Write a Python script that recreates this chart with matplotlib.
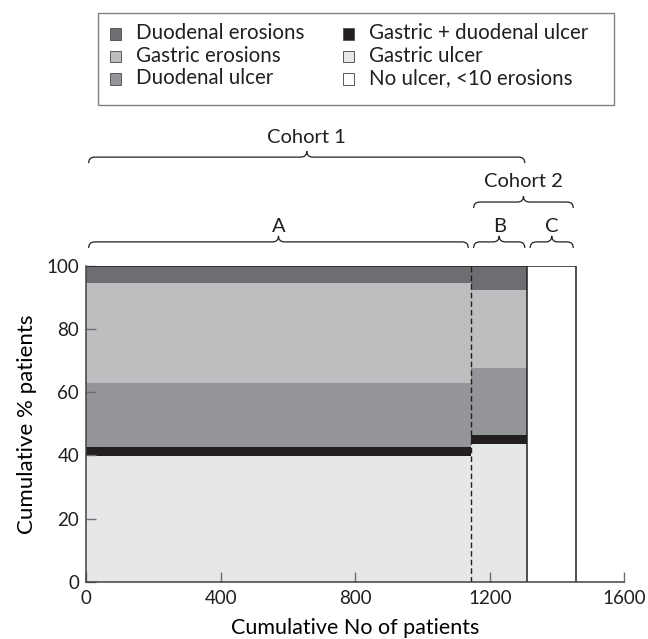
import numpy as np
import matplotlib
matplotlib.use("Agg")
import matplotlib.pyplot as plt
from matplotlib.path import Path
from matplotlib.patches import PathPatch, Rectangle

# groups of patients along the x axis
groups = ["A", "B", "C"]
n_patients = [1144, 168, 144]

# stacked % of patients per group, from the bottom up
layers = ["Gastric ulcer", "Gastric + duodenal ulcer", "Duodenal ulcer",
          "Gastric erosions", "Duodenal erosions", "No ulcer, <10 erosions"]
pct_A = [39.8, 2.8, 20.4, 31.6, 5.4, 0.0]
pct_B = [43.5, 2.9, 21.2, 24.8, 7.6, 0.0]
pct_C = [0.0, 0.0, 0.0, 0.0, 0.0, 100.0]

# cohorts as (label, first group, last group)
cohorts = [("Cohort 1", 0, 1), ("Cohort 2", 1, 2)]

colors = {"Gastric ulcer": "#e6e7e8",
          "Gastric + duodenal ulcer": "#231f20",
          "Duodenal ulcer": "#939598",
          "Gastric erosions": "#bcbec0",
          "Duodenal erosions": "#6d6e71",
          "No ulcer, <10 erosions": "#ffffff"}

ink = "#231f20"
plt.rcParams["font.family"] = ["Lato", "DejaVu Sans"]
plt.rcParams["text.color"] = ink

W, H = 648, 639
fig = plt.figure(figsize=(W / 100, H / 100), dpi=100)
ax = fig.add_axes([0.1327, 0.0892, 0.8309, 0.4951])

lefts = np.concatenate([[0], np.cumsum(n_patients)[:-1]])
rights = lefts + np.array(n_patients)
pcts = np.array([pct_A, pct_B, pct_C])

bottom = np.zeros(len(groups))
for i, name in enumerate(layers):
    vals = pcts[:, i]
    ax.bar(lefts, vals, width=n_patients, bottom=bottom, align="edge",
           color=colors[name], linewidth=0, zorder=1)
    bottom += vals

# outlines: top edge, dashed A/B split, solid edges of B and C
ax.plot([0, rights[-1]], [100, 100], color=ink, lw=1.1, zorder=3,
        solid_capstyle="butt")
ax.plot([rights[0], rights[0]], [0, 100], color=ink, lw=1.0,
        linestyle=(0, (4, 2.2)), zorder=3)
for x in rights[1:]:
    ax.plot([x, x], [0, 100], color=ink, lw=1.1, zorder=3)


def brace(x0, x1, y0, rx=18, ry=1.9):
    xm = (x0 + x1) / 2
    y1 = y0 + ry
    y2 = y1 + ry
    verts = [(x0, y0), (x0, y1), (x0 + rx, y1),
             (xm - rx, y1), (xm, y1), (xm, y2),
             (xm, y1), (xm + rx, y1),
             (x1 - rx, y1), (x1, y1), (x1, y0)]
    codes = [Path.MOVETO, Path.CURVE3, Path.CURVE3,
             Path.LINETO, Path.CURVE3, Path.CURVE3,
             Path.CURVE3, Path.CURVE3,
             Path.LINETO, Path.CURVE3, Path.CURVE3]
    ax.add_patch(PathPatch(Path(verts, codes), fill=False, edgecolor=ink,
                           lw=0.9, clip_on=False))
    return xm


for g, l, r in zip(groups, lefts, rights):
    xm = brace(l + 8, r - 8, 105.6)
    ax.text(xm, 112.5, g, ha="center", va="center", fontsize=14.5,
            clip_on=False)

cohort_y = [(132.4, 140.6), (118.2, 126.7)]
for (name, a, b), (yb, yt) in zip(cohorts, cohort_y):
    xm = brace(lefts[a] + 8, rights[b] - 8, yb)
    ax.text(xm, yt, name, ha="center", va="center", fontsize=14.5,
            clip_on=False)

ax.set_xlim(0, 1600)
ax.set_ylim(0, 100)
ax.set_xticks([0, 400, 800, 1200, 1600])
ax.set_yticks([0, 20, 40, 60, 80, 100])
ax.tick_params(direction="in", length=7, width=1.0, color="#6d6e71",
               labelsize=13.5, labelcolor=ink)
ax.tick_params(axis="x", pad=6)
ax.tick_params(axis="y", pad=5)
for s in ["top", "right"]:
    ax.spines[s].set_visible(False)
for s in ["left", "bottom"]:
    ax.spines[s].set_color("#414042")
    ax.spines[s].set_linewidth(1.1)
    ax.spines[s].set_zorder(4)
ax.set_axisbelow(False)

ax.set_xlabel("Cumulative No of patients", fontsize=15.5, labelpad=8)
ax.set_ylabel("Cumulative % patients", fontsize=16, labelpad=7)

# legend box, two columns of three entries (positions in pixels)
legend_order = ["Duodenal erosions", "Gastric erosions", "Duodenal ulcer",
                "Gastric + duodenal ulcer", "Gastric ulcer",
                "No ulcer, <10 erosions"]
box_x0, box_x1, box_y0, box_y1 = 98, 614, 12.5, 105
fig.patches.append(Rectangle((box_x0 / W, 1 - box_y1 / H),
                             (box_x1 - box_x0) / W, (box_y1 - box_y0) / H,
                             transform=fig.transFigure, fill=False,
                             edgecolor="#808285", lw=1.0))
sq_x = [110, 343]
txt_x = [136, 368.7]
sq = 11
for i, name in enumerate(legend_order):
    col, row = divmod(i, 3)
    top_px = 28.5 + 22.5 * row
    fig.patches.append(Rectangle((sq_x[col] / W, 1 - (top_px + sq) / H),
                                 sq / W, sq / H, transform=fig.transFigure,
                                 facecolor=colors[name], edgecolor="#58595b",
                                 lw=0.7))
    fig.text(txt_x[col] / W, 1 - (39 + 22.5 * row) / H, name,
             ha="left", va="baseline", fontsize=14.8)

fig.savefig("out.png", dpi=100)
